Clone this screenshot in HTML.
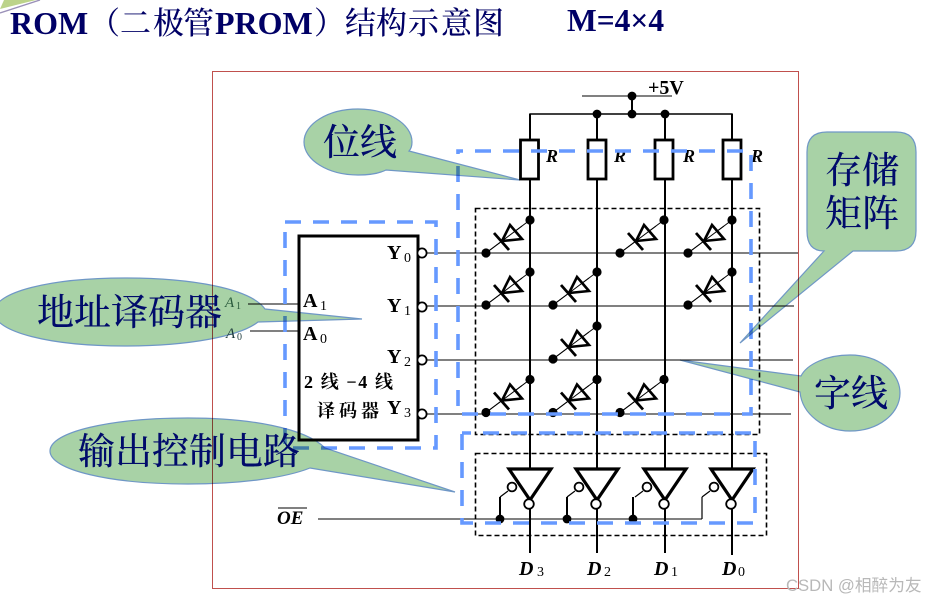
<!DOCTYPE html>
<html><head><meta charset="utf-8"><style>
html,body{margin:0;padding:0;background:#fff}
svg{display:block}
.t{font-family:"Liberation Serif",serif;font-weight:bold;font-size:32px;fill:#000066}
.tc{font-family:"Noto Serif CJK SC",serif;font-weight:500;font-size:31px;fill:#000066}
.b{font-family:"Liberation Serif",serif;font-weight:bold;font-size:20px;fill:#000}
.i{font-family:"Liberation Serif",serif;font-weight:bold;font-style:italic;fill:#000}
.n{font-family:"Liberation Serif",serif;font-size:14px;fill:#000}
.z{font-family:"Liberation Serif","Noto Serif CJK SC",serif;font-weight:bold;font-size:18px;fill:#000}
.c{font-family:"Noto Serif CJK SC",serif;font-weight:500;font-size:37px;fill:#000b6b}
.k{fill:#a8d2a6;stroke:#6f97c6;stroke-width:1.2;mix-blend-mode:multiply}
</style></head><body>
<svg width="926" height="600" viewBox="0 0 926 600" xmlns="http://www.w3.org/2000/svg">
<defs>
<g id="d">
<line x1="0" y1="0" x2="44" y2="-33" stroke="#000" stroke-width="1"/>
<circle cx="0" cy="0" r="4.6"/><circle cx="44" cy="-33" r="4.6"/>
<path d="M16,-12 L24,-28 L36,-14 Z" fill="#fff" stroke="#000" stroke-width="2.6"/>
<line x1="8" y1="-20" x2="23" y2="-3" stroke="#000" stroke-width="2.8"/>
<line x1="0" y1="0" x2="36" y2="-27" stroke="#000" stroke-width="1"/>
</g>
<g id="inv">
<path d="M-21,0 H21 L0,31 Z" fill="#fff" stroke="#000" stroke-width="3.2"/>
<circle cx="-1" cy="35" r="4.8" fill="#fff" stroke="#000" stroke-width="1.8"/>
<circle cx="-18" cy="18" r="4.4" fill="#fff" stroke="#000" stroke-width="1.8"/>
<path d="M-22,22 L-30,28" fill="none" stroke="#000" stroke-width="1.2"/>
</g>
</defs>

<rect x="0" y="0" width="926" height="600" fill="#fff"/>
<path d="M4,0 H36 L0,9 Z" fill="#bcd38a"/>
<path d="M0,13 L40,0" stroke="#9a90b8" stroke-width="1.4"/>
<text class="t" x="10" y="34">ROM</text>
<text class="tc" x="89" y="34">（</text>
<text class="tc" x="120 153 183" y="34">二极管</text>
<text class="t" x="215" y="34">PROM</text>
<text class="tc" x="314" y="34">）</text>
<text class="tc" x="345 376 408 441 473" y="34">结构示意图</text>
<text class="t" x="567" y="31" style="font-size:31.5px">M=4×4</text>

<rect x="212.5" y="71.5" width="586" height="517" fill="none" stroke="#c0504d" stroke-width="1"/>

<!-- rails -->
<g stroke="#000" fill="none">
<line x1="582" y1="96" x2="672" y2="96" stroke-width="1"/>
<line x1="632" y1="96" x2="632" y2="114" stroke-width="2"/>
<path d="M530,140 V114 H732 V140" stroke-width="1.4"/>
<line x1="530" y1="114" x2="530" y2="469" stroke-width="2"/>
<line x1="597" y1="114" x2="597" y2="469" stroke-width="2"/>
<line x1="665" y1="114" x2="665" y2="469" stroke-width="2"/>
<line x1="732" y1="114" x2="732" y2="469" stroke-width="2"/>
<line x1="530" y1="500" x2="530" y2="553" stroke-width="2"/>
<line x1="597" y1="500" x2="597" y2="553" stroke-width="2"/>
<line x1="665" y1="500" x2="665" y2="553" stroke-width="2"/>
<line x1="732" y1="500" x2="732" y2="555" stroke-width="2"/>
<line x1="426" y1="253" x2="798" y2="253" stroke-width="1"/>
<line x1="426" y1="306" x2="794" y2="306" stroke-width="1"/>
<line x1="426" y1="360" x2="793" y2="360" stroke-width="1"/>
<line x1="426" y1="414" x2="791" y2="414" stroke-width="1"/>
<line x1="248" y1="304" x2="299" y2="304" stroke-width="1"/>
<line x1="250" y1="331" x2="299" y2="331" stroke-width="1"/>
<line x1="318" y1="519" x2="702" y2="519" stroke-width="1"/>
<path d="M702,519 V497" stroke-width="1.2"/>
</g>
<g><circle cx="632" cy="96" r="4.4"/><circle cx="632" cy="114" r="4.4"/><circle cx="597" cy="114" r="4.4"/><circle cx="665" cy="114" r="4.4"/></g>
<g fill="#fff" stroke="#000" stroke-width="2.8">
<rect x="520.5" y="140" width="18" height="39"/><rect x="588" y="140" width="18" height="39"/><rect x="655" y="140" width="18" height="39"/><rect x="723" y="140" width="18" height="39"/>
</g>
<text class="t" x="648" y="94" style="font-size:20px;fill:#000">+5V</text>
<text class="i" x="546" y="162" font-size="18">R</text><text class="i" x="614" y="162" font-size="18">R</text><text class="i" x="683" y="162" font-size="18">R</text><text class="i" x="751" y="162" font-size="18">R</text>

<!-- diodes -->
<use href="#d" x="486" y="253"/><use href="#d" x="620" y="253"/><use href="#d" x="688" y="253"/>
<use href="#d" x="486" y="305"/><use href="#d" x="553" y="305"/><use href="#d" x="688" y="305"/>
<use href="#d" x="553" y="359"/>
<use href="#d" x="486" y="412.5"/><use href="#d" x="553" y="412.5"/><use href="#d" x="620" y="412.5"/>

<!-- inverters -->
<use href="#inv" x="530" y="469"/><use href="#inv" x="597" y="469"/><use href="#inv" x="665" y="469"/><use href="#inv" x="732" y="469"/>
<g stroke="#000" stroke-width="2" fill="none"><path d="M500,497 V519"/><path d="M567,497 V519"/><path d="M633,497 V519"/></g>
<circle cx="500" cy="519" r="4.4"/><circle cx="567" cy="519" r="4.4"/><circle cx="633" cy="519" r="4.4"/>

<!-- decoder -->
<rect x="299" y="236" width="119" height="204" fill="#fff" stroke="#000" stroke-width="3"/>
<g fill="#fff" stroke="#000" stroke-width="1.8"><circle cx="422" cy="253" r="4.6"/><circle cx="422" cy="307" r="4.6"/><circle cx="422" cy="360" r="4.6"/><circle cx="422" cy="414" r="4.6"/></g>
<text class="b" x="387" y="259">Y</text><text class="n" x="404" y="262">0</text>
<text class="b" x="387" y="312">Y</text><text class="n" x="404" y="315">1</text>
<text class="b" x="387" y="363">Y</text><text class="n" x="404" y="366">2</text>
<text class="b" x="387" y="414">Y</text><text class="n" x="404" y="417">3</text>
<text class="b" x="303" y="307">A</text><text class="n" x="320" y="310">1</text>
<text class="b" x="303" y="340">A</text><text class="n" x="320" y="343">0</text>
<text class="z" x="304" y="388" textLength="89" lengthAdjust="spacing">2 线 −4 线</text>
<text class="z" x="317" y="417" letter-spacing="4">译码器</text>
<text class="i" x="277" y="524" font-size="19">OE</text>
<line x1="278" y1="508" x2="307" y2="508" stroke="#000" stroke-width="1"/>
<g>
<text class="i" x="519" y="575" font-size="20">D</text><text class="n" x="537" y="576">3</text>
<text class="i" x="587" y="575" font-size="20">D</text><text class="n" x="604" y="576">2</text>
<text class="i" x="654" y="575" font-size="20">D</text><text class="n" x="671" y="576">1</text>
<text class="i" x="722" y="575" font-size="20">D</text><text class="n" x="738" y="576">0</text>
</g>

<!-- black dashed -->
<g fill="none" stroke="#000" stroke-width="1.6" stroke-dasharray="5 3">
<rect x="475.5" y="208.5" width="284" height="226"/>
<rect x="475.5" y="453.5" width="291" height="82"/>
</g>

<!-- blue dashed -->
<g fill="none" stroke="#6699ff" stroke-width="3.6" stroke-dasharray="16 12">
<rect x="285" y="222" width="151" height="226"/>
<rect x="458" y="151" width="293" height="263" stroke-dashoffset="11"/>
<rect x="462" y="433" width="293" height="90" stroke-dashoffset="7"/>
</g>

<!-- callouts -->
<path class="k" d="M304,142 C304,124 328,109 358,109 C388,109 412,124 412,142 C412,146 411,149 409,151 L520,180 L386,170 C378,174 368,175 358,175 C328,175 304,160 304,142 Z"/>
<path class="k" d="M827,132 H896 Q916,132 916,152 V231 Q916,251 896,251 H853 L740,343 L824,251 Q807,251 807,231 V152 Q807,132 827,132 Z"/>
<path class="k" d="M680,360 L801,376 C807,364 827,355 850,355 C878,355 900,372 900,393 C900,414 878,431 850,431 C824,431 802,414 800,392 Z"/>
<path class="k" d="M-6,312 C-6,292 50,278 125,278 C190,278 250,288 265,309 L362,319 L258,322 C240,336 190,346 125,346 C50,346 -6,332 -6,312 Z"/>
<path class="k" d="M50,451 C50,432 110,418 188,418 C250,418 305,428 325,448 L455,492 L310,468 C285,478 240,484 188,484 C110,484 50,470 50,451 Z"/>

<text class="c" x="323" y="155">位线</text>
<text class="c" x="825" y="183">存储</text><text class="c" x="825" y="226">矩阵</text>
<text class="c" x="814" y="406">字线</text>
<text class="c" x="37" y="325">地址译码器</text>
<text class="c" x="78" y="464">输出控制电路</text>
<text x="225" y="307" font-family="Liberation Serif,serif" font-style="italic" font-size="15" fill="#2a5a3c">A</text><text x="236" y="309" font-family="Liberation Serif,serif" font-size="10" fill="#2a5a3c">1</text>
<text x="226" y="338" font-family="Liberation Serif,serif" font-style="italic" font-size="15" fill="#1d3a3c">A</text><text x="237" y="340" font-family="Liberation Serif,serif" font-size="10" fill="#1d3a3c">0</text>

<text x="786" y="591" font-family="Liberation Sans,Noto Sans CJK SC,sans-serif" font-size="16.7" fill="#b8b8b8">CSDN @相醉为友</text>
</svg>
</body></html>
